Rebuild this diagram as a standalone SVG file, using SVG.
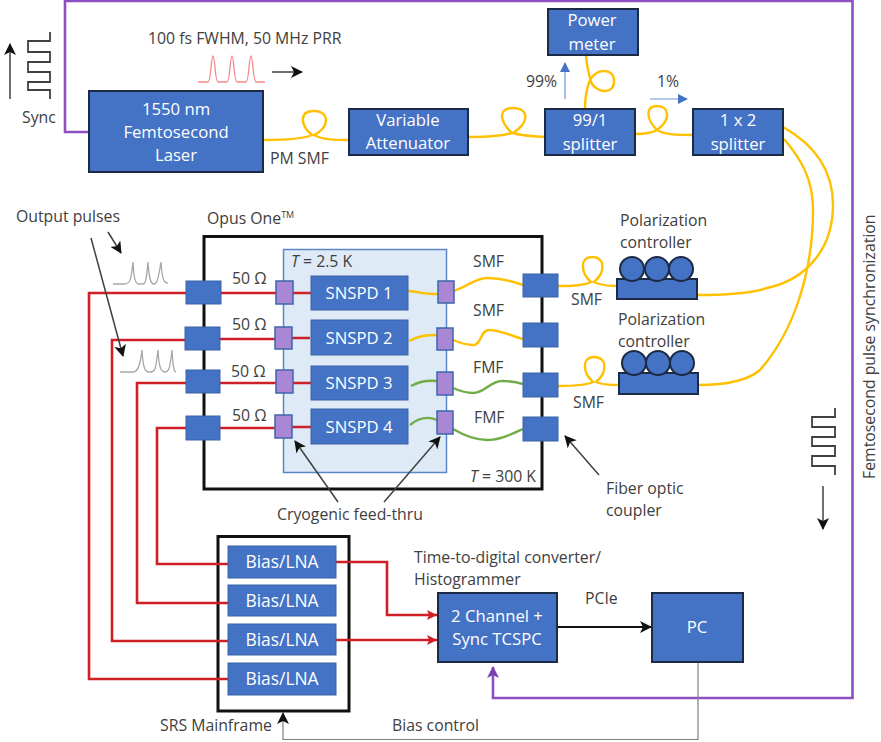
<svg xmlns="http://www.w3.org/2000/svg" width="881" height="742" viewBox="0 0 881 742">
<defs>
<style>
text{font-family:"Open Sans","Noto Sans","Liberation Sans",sans-serif;font-size:15.8px;fill:#404040}
.w{fill:#fff;text-anchor:middle;font-size:16.7px}
.l{fill:#fff;text-anchor:middle;font-size:17.4px}
.c{text-anchor:middle}
.b{fill:#4472c4;stroke:#1c2b45;stroke-width:2}
.t{fill:#4472c4;stroke:#3a62a8;stroke-width:1}
.p{fill:#a987d4;stroke:#3f66ad;stroke-width:1.5}
.y{fill:none;stroke:#ffc000;stroke-width:2.4}
.g{fill:none;stroke:#70ad47;stroke-width:2.4}
.r{fill:none;stroke:#d01f26;stroke-width:2.6}
.v{fill:none;stroke:#8e4fc0;stroke-width:2.6}
.k{fill:none;stroke:#404040;stroke-width:1.5}
.s{fill:none;stroke:#404040;stroke-width:1.8}
.q{fill:none;stroke:#a8a8a8;stroke-width:1.3}
</style>
<marker id="ak" markerUnits="userSpaceOnUse" markerWidth="14" markerHeight="12" refX="11" refY="6" orient="auto"><path d="M0,0L12,6L0,12L3,6Z" fill="#111"/></marker>
<marker id="ar" markerUnits="userSpaceOnUse" markerWidth="12" markerHeight="12" refX="10" refY="6" orient="auto"><path d="M0,1L10,6L0,11L2,6Z" fill="#d01f26"/></marker>
<marker id="av" markerUnits="userSpaceOnUse" markerWidth="14" markerHeight="12" refX="11" refY="6" orient="auto"><path d="M0,0L12,6L0,12L3,6Z" fill="#7a3fb0"/></marker>
<marker id="ab" markerUnits="userSpaceOnUse" markerWidth="12" markerHeight="12" refX="9" refY="6" orient="auto"><path d="M0,1L10,6L0,11Z" fill="#4472c4"/></marker>
</defs>

<g id="wafer-cold"><rect x="283.500" y="249.500" width="163" height="223" fill="#deeaf6" stroke="#5b86c9" stroke-width="1.5"/></g>
<g id="opus-box"><rect x="204" y="236.500" width="338" height="252.500" fill="none" stroke="#111" stroke-width="3"/></g>
<g id="srs-box"><rect x="218" y="536.500" width="131" height="174.500" fill="none" stroke="#111" stroke-width="3"/></g>

<g id="connectors">
<path class="v" d="M93,132H65V1H852.500V698H493V667" marker-end="url(#av)"/>
<path class="y" d="M263,140C285,140 303,139 312,135C300,125 299,111 314,111C330,111 330,127 314,135C323,140 335,140 349,140"/>
<path class="y" d="M469,137C490,137 503,136 512,133C500,122 497,108 513,108C529,108 530,122 513,133C522,136 532,136 545,137"/>
<path class="y" d="M635,134C645,134 652,133 657,130C647,120 644,106 657,106C670,106 671,120 657,130C665,135 678,135 693,135"/>
<path class="y" d="M586,56C587,66 588,74 592,84C598,93 615,95 614,80C613,68 597,68 590,80C586,90 585,98 585,108"/>
<path class="y" d="M783,127C815,145 833,170 833,205C833,250 805,280 767,288C745,295 715,295 697,295"/>
<path class="y" d="M784,139C802,160 813,180 813,210C813,270 795,330 760,370C745,383 720,385 698,385"/>
<path class="y" d="M558,286C570,286 583,286 591,282C580,272 580,257 592,257C605,257 606,272 594,282C600,285 610,286 617,286"/>
<path class="y" d="M558,386C570,386 585,386 593,382C582,372 582,357 594,357C607,357 608,372 596,382C602,385 612,385 619,385"/>
<path class="y" d="M408,291C420,292 428,295 438,294"/>
<path class="y" d="M409,341C420,335 428,335 437,335"/>
<path class="g" d="M411,386C420,381 428,380 437,381"/>
<path class="g" d="M410,425C418,418 428,416 437,420"/>
<path class="y" d="M454,291C470,285 476,278 487,278C500,278 512,281 523,285"/>
<path class="y" d="M453,340C460,343 468,345 473,345C482,345 480,330 489,330C500,330 512,336 523,339"/>
<path class="g" d="M453,388C460,391 467,393 473,393C485,393 490,381 502,381C510,381 517,382 523,384"/>
<path class="g" d="M453,429C465,436 477,440 487,440C500,440 512,434 523,429"/>
<path class="r" d="M186,293H89V679H228"/>
<path class="r" d="M185,340H112V641H228"/>
<path class="r" d="M186,383H137V603H228"/>
<path class="r" d="M186,428H157V564H228"/>
<path class="r" d="M221,293H276M293,293H311"/>
<path class="r" d="M220,339H275M292,338H310"/>
<path class="r" d="M220,383H276M293,383H311"/>
<path class="r" d="M220,428H275M292,427H311"/>
<path class="r" d="M336,562H387V615H437" marker-end="url(#ar)"/>
<path class="r" d="M336,640H437" marker-end="url(#ar)"/>
<path d="M557,627H651" fill="none" stroke="#111" stroke-width="2" marker-end="url(#ak)"/>
<path d="M698,662V739.500H283V713" fill="none" stroke="#7f7f7f" stroke-width="1.200" marker-end="url(#ak)"/>
<path d="M565,99V63" fill="none" stroke="#6f94d6" stroke-width="1.200" marker-end="url(#ab)"/>
<path d="M650,99H687" fill="none" stroke="#6f94d6" stroke-width="1.200" marker-end="url(#ab)"/>
<path class="k" d="M272,72H302" marker-end="url(#ak)"/>
<path class="k" d="M10,99V44" marker-end="url(#ak)"/>
<path class="k" d="M823,486V529" marker-end="url(#ak)"/>
<path class="k" d="M108,232L121,253" marker-end="url(#ak)"/>
<path class="k" d="M91,238L123,356" marker-end="url(#ak)"/>
<path class="k" d="M338,502L295,441" marker-end="url(#ak)"/>
<path class="k" d="M384,502L440,437" marker-end="url(#ak)"/>
<path class="k" d="M599,475L565,436" marker-end="url(#ak)"/>
</g>

<g id="waveforms">
<path class="s" d="M50,32V41H28V52H50V62H28V72H50V82H28V90H50V99"/>
<path class="s" d="M835,408V417H812V427H835V437H812V446H835V456H812V466H835V475"/>
<path d="M198,82H208C211,82 211,56 213,56C215,56 215,82 218,82H227C230,82 230,56 232,56C234,56 234,82 237,82H246C249,82 249,56 251,56C253,56 253,82 256,82H265" fill="none" stroke="#f28b8b" stroke-width="1.300"/>
<path class="q" d="M113,284H124C130,284 131,281 133,262C134,282 136,283 138,284H143C146,284 146,280 148,262C149,280 151,284 154,284C157,284 158,280 161,262C162,280 164,283 168,283"/>
<path class="q" d="M120,372H133C137,372 140,368 142,350C143,368 145,372 149,372H151C155,372 156,368 158,350C159,368 161,372 165,372C169,372 170,368 172,350C173,368 174,372 176,372"/>
</g>

<g id="laser"><rect class="b" x="89" y="91" width="174" height="81"/><text class="w" x="176" y="115">1550 nm</text><text class="w" x="176" y="138">Femtosecond</text><text class="w" x="176" y="161">Laser</text></g>
<g id="attenuator"><rect class="b" x="349" y="109" width="119" height="46"/><text class="w" x="408" y="126">Variable</text><text class="w" x="408" y="149">Attenuator</text></g>
<g id="splitter-99"><rect class="b" x="545" y="109" width="90" height="46"/><text class="w" x="590" y="126">99/1</text><text class="w" x="590" y="150">splitter</text></g>
<g id="splitter-12"><rect class="b" x="693" y="109" width="90" height="46"/><text class="w" x="738" y="126">1 x 2</text><text class="w" x="738" y="150">splitter</text></g>
<g id="power-meter"><rect class="b" x="548" y="9" width="90" height="46"/><text class="w" x="592" y="26">Power</text><text class="w" x="592" y="50">meter</text></g>

<g id="snspd-1"><rect class="t" x="311" y="276" width="97" height="34"/><text class="w" x="359" y="299">SNSPD 1</text></g>
<g id="snspd-2"><rect class="t" x="311" y="320" width="97" height="35"/><text class="w" x="359" y="344">SNSPD 2</text></g>
<g id="snspd-3"><rect class="t" x="311" y="366" width="97" height="34"/><text class="w" x="359" y="389">SNSPD 3</text></g>
<g id="snspd-4"><rect class="t" x="311" y="409" width="97" height="35"/><text class="w" x="359" y="433">SNSPD 4</text></g>

<g id="couplers-left">
<rect class="t" x="186" y="281" width="35" height="23"/><rect class="t" x="185" y="327" width="35" height="23"/><rect class="t" x="186" y="370" width="34" height="23"/><rect class="t" x="186" y="416" width="34" height="24"/>
</g>
<g id="couplers-right">
<rect class="t" x="523" y="274" width="35" height="23"/><rect class="t" x="523" y="323" width="35" height="24"/><rect class="t" x="523" y="373" width="35" height="24"/><rect class="t" x="523" y="417" width="35" height="24"/>
</g>
<g id="feedthru-left">
<rect class="p" x="276" y="281" width="17" height="23"/><rect class="p" x="275" y="327" width="17" height="22"/><rect class="p" x="276" y="370" width="17" height="23"/><rect class="p" x="275" y="415" width="17" height="23"/>
</g>
<g id="feedthru-right">
<rect class="p" x="438" y="281" width="16" height="22"/><rect class="p" x="437" y="328" width="16" height="22"/><rect class="p" x="437" y="372" width="16" height="23"/><rect class="p" x="437" y="411" width="16" height="23"/>
</g>

<g id="pol-1"><rect class="b" x="617" y="279" width="80" height="20"/><circle class="b" cx="632" cy="269" r="12"/><circle class="b" cx="657" cy="269" r="12"/><circle class="b" cx="681" cy="269" r="12"/></g>
<g id="pol-2"><rect class="b" x="619" y="373" width="79" height="21"/><circle class="b" cx="634" cy="363" r="12"/><circle class="b" cx="658" cy="363" r="12"/><circle class="b" cx="682" cy="363" r="12"/></g>

<g id="bias-1"><rect class="t" x="228" y="546" width="108" height="32"/><text class="l" x="282" y="568">Bias/LNA</text></g>
<g id="bias-2"><rect class="t" x="228" y="585" width="108" height="31"/><text class="l" x="282" y="607">Bias/LNA</text></g>
<g id="bias-3"><rect class="t" x="228" y="624" width="108" height="31"/><text class="l" x="282" y="646">Bias/LNA</text></g>
<g id="bias-4"><rect class="t" x="228" y="663" width="108" height="32"/><text class="l" x="282" y="685">Bias/LNA</text></g>

<g id="tcspc"><rect class="b" x="438" y="593" width="119" height="69"/><text class="w" x="497" y="622">2 Channel +</text><text class="w" x="497" y="645">Sync TCSPC</text></g>
<g id="pc"><rect class="b" x="652" y="593" width="91" height="69"/><text class="w" x="697" y="633">PC</text></g>

<g id="labels">
<text x="148" y="44">100 fs FWHM, 50 MHz PRR</text>
<text x="22" y="123">Sync</text>
<text x="270" y="164">PM SMF</text>
<text x="526" y="87">99%</text>
<text x="657" y="87">1%</text>
<text x="16" y="222">Output pulses</text>
<text x="207" y="224">Opus One<tspan font-size="9" dy="-6">TM</tspan></text>
<text x="232" y="284">50 Ω</text>
<text x="232" y="330">50 Ω</text>
<text x="231" y="377">50 Ω</text>
<text x="232" y="421">50 Ω</text>
<text x="291" y="267"><tspan font-style="italic">T</tspan> = 2.5 K</text>
<text x="473" y="267">SMF</text>
<text x="473" y="316">SMF</text>
<text x="473" y="373">FMF</text>
<text x="474" y="423">FMF</text>
<text x="470" y="482"><tspan font-style="italic">T</tspan> = 300 K</text>
<text x="277" y="520" font-size="15.3">Cryogenic feed-thru</text>
<text x="571" y="305">SMF</text>
<text x="573" y="408">SMF</text>
<text x="620" y="226">Polarization</text>
<text x="620" y="248">controller</text>
<text x="618" y="325">Polarization</text>
<text x="618" y="347">controller</text>
<text x="606" y="494">Fiber optic</text>
<text x="606" y="516">coupler</text>
<text x="414" y="563">Time-to-digital converter/</text>
<text x="414" y="585">Histogrammer</text>
<text x="585" y="604">PCIe</text>
<text x="160" y="731">SRS Mainframe</text>
<text x="392" y="731">Bias control</text>
<text transform="translate(875,479) rotate(-90)" font-size="15.4">Femtosecond pulse synchronization</text>
</g>
</svg>
